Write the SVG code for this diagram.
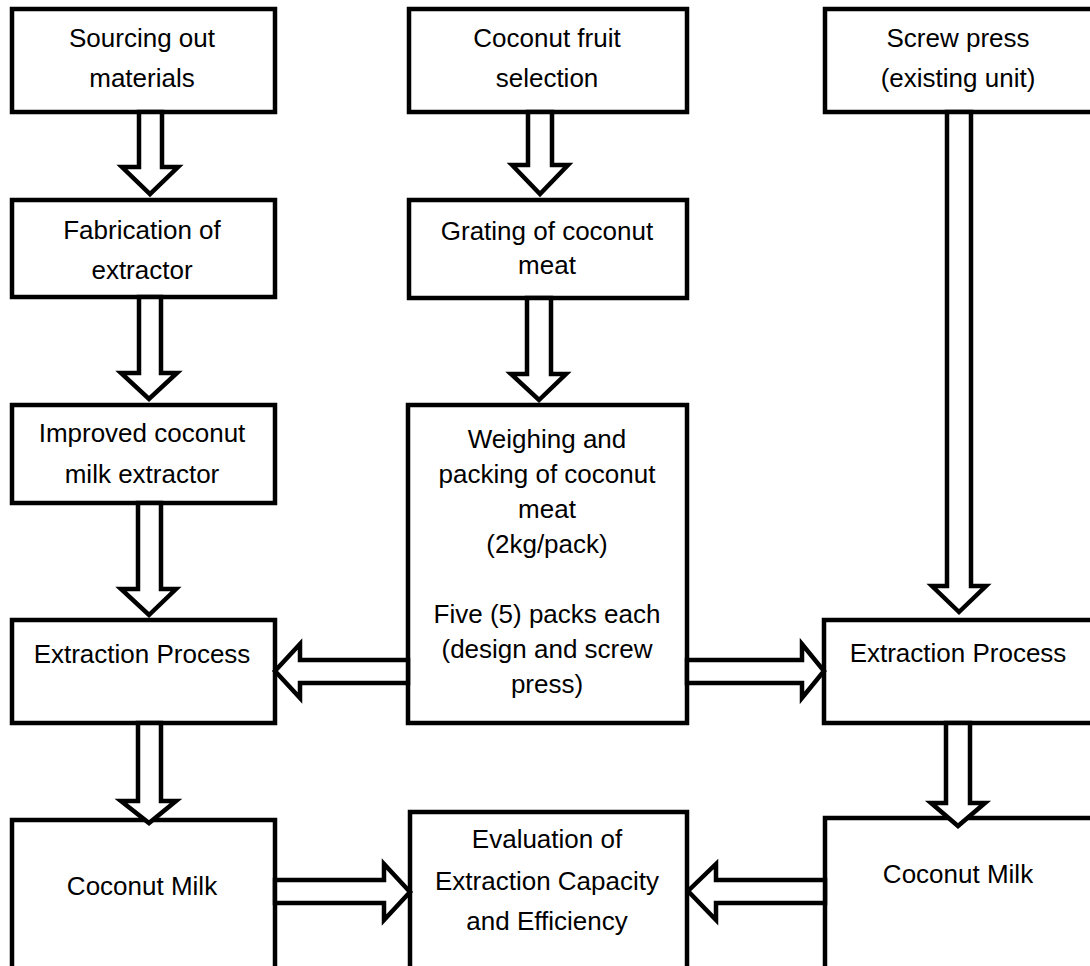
<svg xmlns="http://www.w3.org/2000/svg" width="1090" height="966" viewBox="0 0 1090 966">
<style>
.box{fill:#fff;stroke:#000;stroke-width:4.5}
.arr{fill:#fff;stroke:#000;stroke-width:4.5;stroke-linejoin:miter}
text{font-family:"Liberation Sans",Arial,sans-serif;font-size:26px;fill:#000;text-anchor:middle}
</style>
<rect width="1090" height="966" fill="#fff"/>
<g id="n-sourcing"><rect class="box" x="12" y="9" width="263" height="103"/><text x="142" y="47">Sourcing out</text><text x="142" y="87">materials</text></g>
<g id="n-fabrication"><rect class="box" x="12" y="200" width="263" height="97"/><text x="142" y="239">Fabrication of</text><text x="142" y="279">extractor</text></g>
<g id="n-improved"><rect class="box" x="12" y="405" width="263" height="98"/><text x="142" y="442">Improved coconut</text><text x="142" y="483">milk extractor</text></g>
<g id="n-extract-left"><rect class="box" x="12" y="620" width="263" height="103"/><text x="142" y="663">Extraction Process</text></g>
<g id="n-milk-left"><rect class="box" x="12" y="820" width="263" height="160"/><text x="142" y="895">Coconut Milk</text></g>
<g id="n-selection"><rect class="box" x="409" y="9" width="278" height="103"/><text x="547" y="47">Coconut fruit</text><text x="547" y="87">selection</text></g>
<g id="n-grating"><rect class="box" x="409" y="200" width="278" height="98"/><text x="547" y="240">Grating of coconut</text><text x="547" y="274">meat</text></g>
<g id="n-weighing"><rect class="box" x="408" y="405" width="279" height="318"/><text x="547" y="448">Weighing and</text><text x="547" y="483">packing of coconut</text><text x="547" y="518">meat</text><text x="547" y="553">(2kg/pack)</text><text x="547" y="623">Five (5) packs each</text><text x="547" y="658">(design and screw</text><text x="547" y="693">press)</text></g>
<g id="n-evaluation"><rect class="box" x="410" y="812" width="277" height="170"/><text x="547" y="848">Evaluation of</text><text x="547" y="890">Extraction Capacity</text><text x="547" y="930">and Efficiency</text></g>
<g id="n-screw"><rect class="box" x="825" y="9" width="275" height="103"/><text x="958" y="47">Screw press</text><text x="958" y="87">(existing unit)</text></g>
<g id="n-extract-right"><rect class="box" x="824" y="620" width="276" height="103"/><text x="958" y="662">Extraction Process</text></g>
<g id="n-milk-right"><rect class="box" x="825" y="818" width="275" height="162"/><text x="958" y="883">Coconut Milk</text></g>
<g id="connectors">
<polygon class="arr" points="139,112 162,112 162,167 178,167 150,194 122,167 139,167"/>
<polygon class="arr" points="139,297 161,297 161,373 177,373 149,399 121,373 139,373"/>
<polygon class="arr" points="138,503 161,503 161,589 176,589 149,615 121,589 138,589"/>
<polygon class="arr" points="138,723 161,723 161,801 176,801 149,823 121,801 138,801"/>
<polygon class="arr" points="528,112 552,112 552,165 568,165 540,194 512,165 528,165"/>
<polygon class="arr" points="527,298 551,298 551,374 566,374 539,400 511,374 527,374"/>
<polygon class="arr" points="947,112 971,112 971,586 986,586 959,612 932,586 947,586"/>
<polygon class="arr" points="946,723 970,723 970,803 985,803 958,826 931,803 946,803"/>
<polygon class="arr" points="408,660 300,660 300,644 275,671 300,698 300,683 408,683"/>
<polygon class="arr" points="687,660 802,660 802,644 824,671 802,698 802,683 687,683"/>
<polygon class="arr" points="275,880 384,880 384,864 410,892 384,920 384,903 275,903"/>
<polygon class="arr" points="825,880 716,880 716,864 688,891 716,920 716,903 825,903"/>
</g>
</svg>
